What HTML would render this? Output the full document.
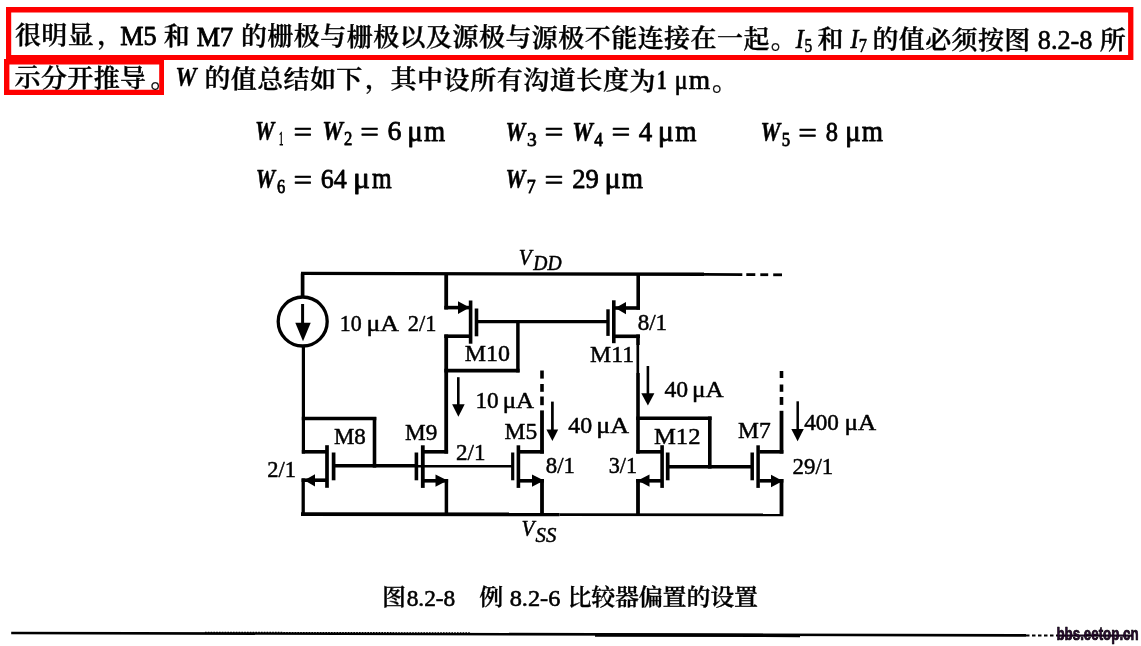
<!DOCTYPE html>
<html lang="zh-CN">
<head>
<meta charset="utf-8">
<title>图8.2-8 例 8.2-6 比较器偏置的设置</title>
<style>
html, body { margin: 0; padding: 0; background: #fff; }
body { width: 1141px; height: 646px; overflow: hidden; position: relative; }
svg { position: absolute; left: 0; top: 0; display: block; will-change: transform; }
text { fill: #000; stroke: #000; stroke-linejoin: round; white-space: pre; }
.zh { font-family: "Liberation Serif", "Noto Serif CJK SC", serif; font-weight: 600; }
.lr { font-family: "Liberation Serif", serif; font-weight: 400; }
.lb { font-family: "Liberation Serif", serif; font-weight: 700; }
.li { font-family: "Liberation Serif", serif; font-weight: 400; font-style: italic; }
.lbi { font-family: "Liberation Serif", serif; font-weight: 700; font-style: italic; }
.wm { font-family: "Liberation Sans", sans-serif; font-weight: 700; fill: #2b0a33; }
</style>
</head>
<body>
<svg width="1141" height="646" viewBox="0 0 1141 646">
<g id="highlight" fill="#fe0000" stroke="none">
<path fill-rule="evenodd" d="M6 7H1133.4V60H6Z M11.2 12.6H1128.1V55H11.2Z"/>
<path fill-rule="evenodd" d="M4 59H164V94.9H4Z M9.4 64.4H159.2V89.7H9.4Z"/>
</g>
<g id="para">
<text x="15.00 41.35 67.70" y="46.29 46.43 46.57" font-size="26" class="zh" stroke-width="0.35" transform="scale(1,0.95)">很明显</text>
<text x="97.20" y="46.72" font-size="26" class="zh" stroke-width="0.35" transform="scale(1,0.95)">，</text>
<text x="120.33" y="45.3" font-size="28" class="lr" textLength="36.34" lengthAdjust="spacingAndGlyphs" stroke-width="0.9">M5</text>
<text x="163.70" y="47.07" font-size="26" class="zh" stroke-width="0.35" transform="scale(1,0.95)">和</text>
<text x="196.63" y="45.57" font-size="28" class="lr" textLength="36.42" lengthAdjust="spacingAndGlyphs" stroke-width="0.9">M7</text>
<text x="240.90 267.35 293.80 320.25 346.70 373.15 399.60 426.05 452.50 478.95 505.40 531.85 558.30 584.75 611.20 637.65 664.10 690.55 717.00 743.45" y="47.48 47.62 47.76 47.90 48.04 48.17 48.31 48.45 48.59 48.73 48.87 49.01 49.15 49.29 49.43 49.57 49.71 49.85 49.98 50.12" font-size="26" class="zh" stroke-width="0.35" transform="scale(1,0.95)">的栅极与栅极以及源极与源极不能连接在一起</text>
<text x="770.80" y="50.27" font-size="26" class="zh" stroke-width="0.35" transform="scale(1,0.95)">。</text>
<text x="795.77" y="47.68" font-size="27" class="li" textLength="7.94" lengthAdjust="spacingAndGlyphs" stroke-width="0.7">I</text>
<text x="804.61" y="51.71" font-size="19" class="lr" textLength="7.7" lengthAdjust="spacingAndGlyphs" stroke-width="0.6">5</text>
<text x="817.50" y="50.51" font-size="26" class="zh" stroke-width="0.35" transform="scale(1,0.95)">和</text>
<text x="850.57" y="47.88" font-size="27" class="li" textLength="7.94" lengthAdjust="spacingAndGlyphs" stroke-width="0.7">I</text>
<text x="858.73" y="51.91" font-size="19" class="lr" textLength="8.22" lengthAdjust="spacingAndGlyphs" stroke-width="0.6">7</text>
<text x="872.50 898.85 925.20 951.55 977.90 1004.25" y="50.80 50.94 51.08 51.22 51.36 51.50" font-size="26" class="zh" stroke-width="0.35" transform="scale(1,0.95)">的值必须按图</text>
<text x="1037.82" y="48.63" font-size="28" class="lr" textLength="54.68" lengthAdjust="spacingAndGlyphs" stroke-width="0.6">8.2-8</text>
<text x="1099.80" y="52.00" font-size="26" class="zh" stroke-width="0.35" transform="scale(1,0.95)">所</text>
<text x="14.60 40.95 67.30 93.65 120.00" y="91.02 91.16 91.30 91.44 91.58" font-size="26" class="zh" stroke-width="0.35" transform="scale(1,0.95)">示分开推导</text>
<text x="150.50" y="91.74" font-size="26" class="zh" stroke-width="0.35" transform="scale(1,0.95)">。</text>
<text x="175.17" y="86.27" font-size="27" class="lbi" textLength="21.38" lengthAdjust="spacingAndGlyphs" stroke-width="0.3">W</text>
<text x="204.50 230.85 257.20 283.55 309.90 336.25" y="92.02 92.16 92.30 92.44 92.58 92.72" font-size="26" class="zh" stroke-width="0.35" transform="scale(1,0.95)">的值总结如下</text>
<text x="365.00" y="92.87" font-size="26" class="zh" stroke-width="0.35" transform="scale(1,0.95)">，</text>
<text x="390.50 417.05 443.60 470.15 496.70 523.25 549.80 576.35 602.90 629.45" y="93.00 93.14 93.28 93.42 93.56 93.70 93.84 93.98 94.12 94.26" font-size="26" class="zh" stroke-width="0.35" transform="scale(1,0.95)">其中设所有沟道长度为</text>
<text x="656.74" y="88.58" font-size="26.5" class="lb" textLength="10.07" lengthAdjust="spacingAndGlyphs" stroke-width="0.3">1</text>
<text x="674.84" y="88.64999999999999" font-size="27" class="lr" textLength="12.79" lengthAdjust="spacingAndGlyphs" stroke-width="0.7">μ</text>
<text x="688.8" y="88.72" font-size="27" class="lr" textLength="21.37" lengthAdjust="spacingAndGlyphs" stroke-width="0.7">m</text>
<text x="712.00" y="94.69" font-size="26" class="zh" stroke-width="0.35" transform="scale(1,0.95)">。</text>
</g>
<g id="formulas">
<text x="255.03" y="140.3" font-size="28" class="lbi" textLength="19.35" lengthAdjust="spacingAndGlyphs" stroke-width="0.5">W</text>
<text x="278.93" y="145.3" font-size="19" class="lr" textLength="4.4" lengthAdjust="spacingAndGlyphs" stroke-width="0.8">1</text>
<text x="293.59" y="140.95" font-size="28" class="lr" textLength="18.68" lengthAdjust="spacingAndGlyphs" stroke-width="0.7">=</text>
<text x="322.21" y="140.39" font-size="28" class="lbi" textLength="20.77" lengthAdjust="spacingAndGlyphs" stroke-width="0.5">W</text>
<text x="343.89" y="145.39" font-size="19" class="lr" textLength="8.32" lengthAdjust="spacingAndGlyphs" stroke-width="0.8">2</text>
<text x="360.19" y="141.04" font-size="28" class="lr" textLength="18.68" lengthAdjust="spacingAndGlyphs" stroke-width="0.7">=</text>
<text x="387.42" y="140.47" font-size="28" class="lr" textLength="13.92" lengthAdjust="spacingAndGlyphs" stroke-width="0.8">6</text>
<text x="407.27" y="140.5" font-size="30" class="lr" textLength="15.63" lengthAdjust="spacingAndGlyphs" stroke-width="0.8">μ</text>
<text x="424.06" y="140.5" font-size="30" class="lr" textLength="21.16" lengthAdjust="spacingAndGlyphs" stroke-width="0.8">m</text>
<text x="505.59" y="140.62" font-size="28" class="lbi" textLength="19.86" lengthAdjust="spacingAndGlyphs" stroke-width="0.5">W</text>
<text x="527.08" y="145.62" font-size="19" class="lr" textLength="9.7" lengthAdjust="spacingAndGlyphs" stroke-width="0.8">3</text>
<text x="544.57" y="141.28" font-size="28" class="lr" textLength="18.92" lengthAdjust="spacingAndGlyphs" stroke-width="0.7">=</text>
<text x="572.32" y="140.71" font-size="28" class="lbi" textLength="20.67" lengthAdjust="spacingAndGlyphs" stroke-width="0.5">W</text>
<text x="594.25" y="145.71" font-size="19" class="lr" textLength="8.71" lengthAdjust="spacingAndGlyphs" stroke-width="0.8">4</text>
<text x="611.58" y="141.35999999999999" font-size="28" class="lr" textLength="18.8" lengthAdjust="spacingAndGlyphs" stroke-width="0.7">=</text>
<text x="638.76" y="140.8" font-size="28" class="lr" textLength="13.44" lengthAdjust="spacingAndGlyphs" stroke-width="0.8">4</text>
<text x="657.89" y="140.82" font-size="30" class="lr" textLength="16.15" lengthAdjust="spacingAndGlyphs" stroke-width="0.8">μ</text>
<text x="675.15" y="140.82" font-size="30" class="lr" textLength="21.27" lengthAdjust="spacingAndGlyphs" stroke-width="0.8">m</text>
<text x="760.39" y="140.96" font-size="28" class="lbi" textLength="19.86" lengthAdjust="spacingAndGlyphs" stroke-width="0.5">W</text>
<text x="781.74" y="145.96" font-size="19" class="lr" textLength="8.32" lengthAdjust="spacingAndGlyphs" stroke-width="0.8">5</text>
<text x="798.29" y="141.60999999999999" font-size="28" class="lr" textLength="18.68" lengthAdjust="spacingAndGlyphs" stroke-width="0.7">=</text>
<text x="825.78" y="141.04" font-size="28" class="lr" textLength="12.24" lengthAdjust="spacingAndGlyphs" stroke-width="0.8">8</text>
<text x="844.95" y="141.07" font-size="30" class="lr" textLength="15.76" lengthAdjust="spacingAndGlyphs" stroke-width="0.8">μ</text>
<text x="861.85" y="141.07" font-size="30" class="lr" textLength="21.27" lengthAdjust="spacingAndGlyphs" stroke-width="0.8">m</text>
<text x="255.73" y="188.0" font-size="28" class="lbi" textLength="19.35" lengthAdjust="spacingAndGlyphs" stroke-width="0.5">W</text>
<text x="276.9" y="193.0" font-size="19" class="lr" textLength="8.19" lengthAdjust="spacingAndGlyphs" stroke-width="0.8">6</text>
<text x="293.59" y="188.65" font-size="28" class="lr" textLength="18.68" lengthAdjust="spacingAndGlyphs" stroke-width="0.7">=</text>
<text x="320.8" y="188.08" font-size="28" class="lr" textLength="25.99" lengthAdjust="spacingAndGlyphs" stroke-width="0.8">64</text>
<text x="353.06" y="188.13" font-size="30" class="lr" textLength="17.05" lengthAdjust="spacingAndGlyphs" stroke-width="0.8">μ</text>
<text x="371.89" y="188.13" font-size="30" class="lr" textLength="19.7" lengthAdjust="spacingAndGlyphs" stroke-width="0.8">m</text>
<text x="505.59" y="188.32" font-size="28" class="lbi" textLength="19.86" lengthAdjust="spacingAndGlyphs" stroke-width="0.5">W</text>
<text x="526.84" y="193.32" font-size="19" class="lr" textLength="8.96" lengthAdjust="spacingAndGlyphs" stroke-width="0.8">7</text>
<text x="544.57" y="188.98" font-size="28" class="lr" textLength="18.92" lengthAdjust="spacingAndGlyphs" stroke-width="0.7">=</text>
<text x="572.27" y="188.41" font-size="28" class="lr" textLength="26.59" lengthAdjust="spacingAndGlyphs" stroke-width="0.8">29</text>
<text x="604.57" y="188.45" font-size="30" class="lr" textLength="16.28" lengthAdjust="spacingAndGlyphs" stroke-width="0.8">μ</text>
<text x="621.85" y="188.45" font-size="30" class="lr" textLength="21.27" lengthAdjust="spacingAndGlyphs" stroke-width="0.8">m</text>
</g>
<g id="circuit" stroke="#000" fill="none" stroke-linecap="butt">
<line x1="301.0" y1="273.4" x2="704" y2="274.3" stroke-width="3.4"/>
<line x1="704" y1="274.45" x2="742.3" y2="274.6" stroke-width="2.8"/>
<line x1="746.3" y1="274.6" x2="755.3" y2="274.6" stroke-width="2.8"/>
<line x1="760.3" y1="274.7" x2="768.2" y2="274.7" stroke-width="2.8"/>
<line x1="773.2" y1="274.8" x2="782" y2="274.8" stroke-width="2.8"/>
<line x1="301.0" y1="514.2" x2="559.5" y2="514.3" stroke-width="3.7"/>
<line x1="559.5" y1="514.6" x2="783.4" y2="514.9" stroke-width="2.8"/>
<line x1="302.6" y1="273.4" x2="302.6" y2="297" stroke-width="3.7"/>
<circle cx="302.7" cy="321.5" r="24.5" stroke-width="3.3"/>
<line x1="302.6" y1="304" x2="302.6" y2="325" stroke-width="3.0"/>
<line x1="303.4" y1="346" x2="303.4" y2="453.6" stroke-width="3.2"/>
<line x1="303.2" y1="478.40000000000003" x2="303.2" y2="514" stroke-width="3.3"/>
<line x1="446.2" y1="273.5" x2="446.2" y2="309.5" stroke-width="3.8"/>
<line x1="444.3" y1="307.6" x2="470" y2="307.6" stroke-width="3.6"/>
<line x1="470.6" y1="300.5" x2="470.6" y2="343.7" stroke-width="3.6"/>
<line x1="476.5" y1="308.5" x2="476.5" y2="336.3" stroke-width="3.6"/>
<line x1="478" y1="321.7" x2="608" y2="321.7" stroke-width="3.2"/>
<line x1="444.3" y1="336.2" x2="470" y2="336.2" stroke-width="3.6"/>
<line x1="446.2" y1="334.5" x2="446.2" y2="453.6" stroke-width="3.8"/>
<line x1="517.9" y1="321.7" x2="517.9" y2="372.4" stroke-width="3.5"/>
<line x1="444.3" y1="370.6" x2="519.6" y2="370.6" stroke-width="3.6"/>
<line x1="638.2" y1="273.5" x2="638.2" y2="309.7" stroke-width="3.6"/>
<line x1="615" y1="308.0" x2="640.0" y2="308.0" stroke-width="3.6"/>
<line x1="613.8" y1="300.3" x2="613.8" y2="343.2" stroke-width="3.6"/>
<line x1="608.0" y1="309.3" x2="608.0" y2="335.9" stroke-width="3.4"/>
<line x1="615" y1="336.3" x2="640.0" y2="336.3" stroke-width="3.6"/>
<line x1="638.0" y1="334.5" x2="638.0" y2="345" stroke-width="3.6"/>
<line x1="637.8" y1="345" x2="637.8" y2="373" stroke-width="2.7"/>
<line x1="638.0" y1="373" x2="638.0" y2="453.6" stroke-width="3.6"/>
<line x1="301.8" y1="418.5" x2="376.3" y2="418.5" stroke-width="3.6"/>
<line x1="374.5" y1="417" x2="374.5" y2="467.6" stroke-width="3.6"/>
<line x1="301.8" y1="451.8" x2="327" y2="451.8" stroke-width="3.6"/>
<line x1="327.0" y1="445.2" x2="327.0" y2="487.8" stroke-width="3.7"/>
<line x1="333.6" y1="452.5" x2="333.6" y2="480.3" stroke-width="3.7"/>
<line x1="335" y1="465.8" x2="415" y2="465.8" stroke-width="3.6"/>
<line x1="418" y1="466.2" x2="512.5" y2="466.2" stroke-width="2.4"/>
<line x1="301.6" y1="480.2" x2="327" y2="480.2" stroke-width="3.6"/>
<line x1="416.4" y1="452.5" x2="416.4" y2="480.3" stroke-width="3.6"/>
<line x1="422.8" y1="445.3" x2="422.8" y2="487.9" stroke-width="3.8"/>
<line x1="424" y1="451.8" x2="448.1" y2="451.8" stroke-width="3.6"/>
<line x1="424" y1="480.8" x2="448.1" y2="480.8" stroke-width="3.6"/>
<line x1="446.4" y1="479.0" x2="446.4" y2="514" stroke-width="3.5"/>
<line x1="512.7" y1="452.5" x2="512.7" y2="480.3" stroke-width="3.2"/>
<line x1="518.4" y1="445.3" x2="518.4" y2="487.9" stroke-width="3.6"/>
<line x1="520" y1="451.8" x2="543.9" y2="451.8" stroke-width="3.6"/>
<line x1="520" y1="480.8" x2="543.9" y2="480.8" stroke-width="3.6"/>
<line x1="542.0" y1="410.4" x2="542.0" y2="453.6" stroke-width="3.8"/>
<line x1="542.0" y1="396.5" x2="542.0" y2="405.2" stroke-width="3.6"/>
<line x1="542.0" y1="384.0" x2="542.0" y2="391.8" stroke-width="3.6"/>
<line x1="542.0" y1="370.5" x2="542.0" y2="378.6" stroke-width="3.6"/>
<line x1="542.0" y1="479.0" x2="542.0" y2="514" stroke-width="3.8"/>
<line x1="636.2" y1="418.3" x2="711.6" y2="418.3" stroke-width="3.6"/>
<line x1="709.8" y1="416.5" x2="709.8" y2="468.6" stroke-width="3.6"/>
<line x1="636.2" y1="451.8" x2="662" y2="451.8" stroke-width="3.6"/>
<line x1="662.1" y1="445.2" x2="662.1" y2="487.9" stroke-width="3.6"/>
<line x1="667.7" y1="452.5" x2="667.7" y2="480.3" stroke-width="3.7"/>
<line x1="669" y1="466.8" x2="751" y2="466.8" stroke-width="3.6"/>
<line x1="636.2" y1="480.8" x2="662" y2="480.8" stroke-width="3.6"/>
<line x1="638.0" y1="479.0" x2="638.0" y2="514" stroke-width="3.8"/>
<line x1="752.2" y1="452.5" x2="752.2" y2="480.3" stroke-width="3.5"/>
<line x1="758.1" y1="445.3" x2="758.1" y2="487.9" stroke-width="3.5"/>
<line x1="759.5" y1="451.8" x2="783.4" y2="451.8" stroke-width="3.6"/>
<line x1="759.5" y1="480.8" x2="783.4" y2="480.8" stroke-width="3.6"/>
<line x1="781.5" y1="410.8" x2="781.5" y2="453.6" stroke-width="3.8"/>
<line x1="781.5" y1="397.0" x2="781.5" y2="404.9" stroke-width="3.6"/>
<line x1="781.5" y1="384.5" x2="781.5" y2="391.8" stroke-width="3.6"/>
<line x1="781.5" y1="371.0" x2="781.5" y2="378.0" stroke-width="3.6"/>
<line x1="781.5" y1="479.0" x2="781.5" y2="514" stroke-width="3.8"/>
<line x1="458.3" y1="377.2" x2="458.3" y2="406" stroke-width="2.6"/>
<line x1="647.9" y1="366" x2="647.9" y2="395" stroke-width="2.6"/>
<line x1="552.4" y1="401.6" x2="552.4" y2="431" stroke-width="2.7"/>
<line x1="797.7" y1="401.3" x2="797.7" y2="430" stroke-width="2.5"/>
</g>
<g id="arrowheads" fill="#000" stroke="none">
<polygon points="295.3,322.7 310.7,322.7 303,341.3"/>
<polygon points="458,301.3 458,313.9 469.6,307.6"/>
<polygon points="626,302 626,314.2 615.3,308.1"/>
<polygon points="315,474.2 315,486.6 304.3,480.2"/>
<polygon points="435.5,474.4 435.5,486.8 447.5,480.6"/>
<polygon points="532,474.4 532,486.8 544,480.6"/>
<polygon points="649.5,474.4 649.5,486.8 637.8,480.6"/>
<polygon points="771,474.8 771,487.2 782.8,481"/>
<polygon points="452.1,404.3 464.7,404.3 458.4,416.7"/>
<polygon points="641.3,393.2 654.4,393.2 647.9,405.4"/>
<polygon points="546.4,429.6 558.2,429.6 552.4,440.9"/>
<polygon points="791.3,428.9 803.8,428.9 797.6,441.3"/>
</g>
<g id="labels">
<text x="339.83" y="331.2" font-size="23.5" class="lr" textLength="21.94" lengthAdjust="spacingAndGlyphs" stroke-width="0.5">10</text>
<text x="366.48" y="331.2" font-size="23.5" class="lr" textLength="32.59" lengthAdjust="spacingAndGlyphs" stroke-width="0.5">μA</text>
<text x="407.8" y="331.2" font-size="23.5" class="lr" textLength="28.6" lengthAdjust="spacingAndGlyphs" stroke-width="0.5">2/1</text>
<text x="464.79" y="360.7" font-size="23.5" class="lr" textLength="45.24" lengthAdjust="spacingAndGlyphs" stroke-width="0.5">M10</text>
<text x="637.69" y="329.6" font-size="23.5" class="lr" textLength="29.46" lengthAdjust="spacingAndGlyphs" stroke-width="0.5">8/1</text>
<text x="590.1" y="362.3" font-size="23.5" class="lr" textLength="43.97" lengthAdjust="spacingAndGlyphs" stroke-width="0.5">M11</text>
<text x="664.48" y="397.1" font-size="23.5" class="lr" textLength="23.66" lengthAdjust="spacingAndGlyphs" stroke-width="0.5">40</text>
<text x="692.03" y="397.1" font-size="23.5" class="lr" textLength="31.73" lengthAdjust="spacingAndGlyphs" stroke-width="0.5">μA</text>
<text x="475.52" y="408.3" font-size="23.5" class="lr" textLength="23.2" lengthAdjust="spacingAndGlyphs" stroke-width="0.5">10</text>
<text x="502.65" y="408.3" font-size="23.5" class="lr" textLength="31.4" lengthAdjust="spacingAndGlyphs" stroke-width="0.5">μA</text>
<text x="333.92" y="444.1" font-size="23.5" class="lr" textLength="31.87" lengthAdjust="spacingAndGlyphs" stroke-width="0.5">M8</text>
<text x="405.01" y="440.4" font-size="23.5" class="lr" textLength="32.25" lengthAdjust="spacingAndGlyphs" stroke-width="0.5">M9</text>
<text x="504.5" y="439.2" font-size="23.5" class="lr" textLength="32.67" lengthAdjust="spacingAndGlyphs" stroke-width="0.5">M5</text>
<text x="267.2" y="476.7" font-size="23.5" class="lr" textLength="28.71" lengthAdjust="spacingAndGlyphs" stroke-width="0.5">2/1</text>
<text x="456.07" y="460.3" font-size="23.5" class="lr" textLength="29.47" lengthAdjust="spacingAndGlyphs" stroke-width="0.5">2/1</text>
<text x="568.27" y="433.2" font-size="23.5" class="lr" textLength="23.87" lengthAdjust="spacingAndGlyphs" stroke-width="0.5">40</text>
<text x="596.16" y="433.2" font-size="23.5" class="lr" textLength="32.8" lengthAdjust="spacingAndGlyphs" stroke-width="0.5">μA</text>
<text x="545.8" y="472.7" font-size="23.5" class="lr" textLength="29.13" lengthAdjust="spacingAndGlyphs" stroke-width="0.5">8/1</text>
<text x="608.69" y="472.7" font-size="23.5" class="lr" textLength="28.4" lengthAdjust="spacingAndGlyphs" stroke-width="0.5">3/1</text>
<text x="653.97" y="444.1" font-size="23.5" class="lr" textLength="46.51" lengthAdjust="spacingAndGlyphs" stroke-width="0.5">M12</text>
<text x="738.1" y="438.4" font-size="23.5" class="lr" textLength="32.67" lengthAdjust="spacingAndGlyphs" stroke-width="0.5">M7</text>
<text x="804.19" y="429.5" font-size="23.5" class="lr" textLength="34.73" lengthAdjust="spacingAndGlyphs" stroke-width="0.5">400</text>
<text x="844.43" y="429.5" font-size="23.5" class="lr" textLength="31.73" lengthAdjust="spacingAndGlyphs" stroke-width="0.5">μA</text>
<text x="792.58" y="474.2" font-size="23.5" class="lr" textLength="40.55" lengthAdjust="spacingAndGlyphs" stroke-width="0.5">29/1</text>
<text x="518.85" y="264.8" font-size="23" class="li" textLength="12.78" lengthAdjust="spacingAndGlyphs" stroke-width="0.5">V</text>
<text x="533.29" y="270.3" font-size="20.5" class="li" textLength="28.24" lengthAdjust="spacingAndGlyphs" stroke-width="0.5">DD</text>
<text x="521.45" y="535.7" font-size="23" class="li" textLength="12.78" lengthAdjust="spacingAndGlyphs" stroke-width="0.5">V</text>
<text x="535.59" y="542.0" font-size="20.5" class="li" textLength="20.72" lengthAdjust="spacingAndGlyphs" stroke-width="0.5">SS</text>
</g>
<g id="caption">
<text x="382.00" y="629.96" font-size="24" class="zh" stroke-width="0.3" transform="scale(1,0.96)">图</text>
<text x="406.73" y="606.16" font-size="24" class="lr" textLength="48.56" lengthAdjust="spacingAndGlyphs" stroke-width="0.6">8.2-8</text>
<text x="479.30" y="630.17" font-size="24" class="zh" stroke-width="0.3" transform="scale(1,0.96)">例</text>
<text x="509.69" y="606.37" font-size="24" class="lr" textLength="50.65" lengthAdjust="spacingAndGlyphs" stroke-width="0.6">8.2-6</text>
<text x="567.40 591.20 615.00 638.80 662.60 686.40 710.20 734.00" y="630.35 630.40 630.45 630.50 630.55 630.60 630.65 630.70" font-size="24" class="zh" stroke-width="0.3" transform="scale(1,0.96)">比较器偏置的设置</text>
</g>
<g id="footer">
<line x1="11.2" y1="633.0" x2="1026" y2="635.4" stroke="#000" stroke-width="2.6"/>
<line x1="1026" y1="635.5" x2="1058" y2="635.6" stroke="#000" stroke-width="2" stroke-dasharray="3.5 2.5"/>
<line x1="1058" y1="635.6" x2="1132" y2="635.7" stroke="#1c0a22" stroke-width="2.2"/>
<line x1="595" y1="635.0" x2="800" y2="635.5" stroke="#000" stroke-width="3.4"/>
<line x1="205" y1="632.4" x2="470" y2="633.0" stroke="#000" stroke-width="1.4" stroke-dasharray="1.6 1.2"/>
<text x="1056.48" y="639.5" font-size="18.3" class="wm" textLength="82.17" lengthAdjust="spacingAndGlyphs" stroke-width="0.7" stroke="#2b0a33">bbs.eetop.cn</text>
</g>
</svg>
</body>
</html>
